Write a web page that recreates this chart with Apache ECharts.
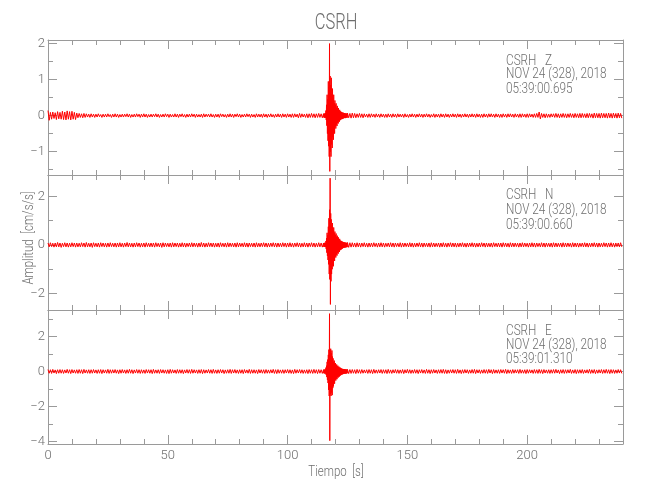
<!DOCTYPE html>
<html>
<head>
<meta charset="utf-8">
<script src="https://cdn.jsdelivr.net/npm/echarts@6/dist/echarts.min.js"></script>
<style>html,body{margin:0;padding:0;background:#fff;}#c{width:650px;height:500px;}</style>
</head>
<body>
<div id="c"></div>
<script>
// ---- sampling grid (seconds) ----
const quietStepA = 1, quietStartA = 0;     // 0..114
const eventStep = 0.25, eventStart = 115;  // 115..124.75
const quietStepB = 1, quietStartB = 125;   // 125..239

// ---- Z component: per-bin max / min (cm/s/s) ----
const zMaxA = [.14,.09,.10,.08,.11,.09,.12,.10,.13,.11,.12,.09,.07,.06,.05,.06,.05,.04,.05,.04,.04,.05,.03,.04,.04,.05,.03,.04,.05,.04,.03,.04,.04,.05,.04,.03,.04,.05,.04,.04,.05,.04,.03,.04,.04,.05,.04,.03,.04,.05,.04,.04,.03,.05,.04,.04,.05,.03,.04,.04,.05,.04,.04,.03,.04,.05,.04,.04,.05,.03,.04,.04,.05,.04,.03,.04,.05,.04,.04,.05,.04,.03,.04,.05,.04,.04,.03,.05,.04,.04,.05,.04,.04,.05,.03,.04,.05,.04,.05,.04,.05,.04,.05,.05,.04,.06,.05,.04,.05,.05,.06,.05,.05,.06,.05];
const zMinA = [-.13,-.10,-.08,-.11,-.09,-.10,-.11,-.12,-.10,-.12,-.10,-.11,-.06,-.05,-.06,-.05,-.04,-.05,-.04,-.05,-.04,-.03,-.05,-.04,-.04,-.03,-.05,-.04,-.04,-.05,-.04,-.04,-.03,-.04,-.05,-.04,-.04,-.03,-.05,-.04,-.04,-.05,-.04,-.04,-.03,-.04,-.05,-.04,-.04,-.03,-.05,-.04,-.04,-.04,-.05,-.03,-.04,-.05,-.04,-.04,-.03,-.05,-.04,-.04,-.05,-.04,-.03,-.04,-.04,-.05,-.04,-.05,-.03,-.04,-.05,-.04,-.04,-.05,-.03,-.04,-.05,-.04,-.04,-.03,-.05,-.04,-.05,-.04,-.04,-.05,-.04,-.05,-.04,-.04,-.05,-.04,-.04,-.05,-.04,-.05,-.04,-.05,-.05,-.04,-.06,-.05,-.04,-.05,-.06,-.05,-.05,-.06,-.05,-.05,-.06];
const zMaxE = [.05,.06,.05,.07,.14,.30,.58,.45,.95,.80,2.00,1.10,.85,1.05,.60,.75,.50,.58,.35,.42,.30,.34,.22,.27,.18,.21,.14,.16,.12,.11,.10,.09,.08,.08,.07,.07,.06,.06,.06,.05];
const zMinE = [-.05,-.06,-.05,-.06,-.12,-.28,-.50,-.70,-.85,-1.14,-1.55,-1.00,-1.14,-.80,-.90,-.60,-.67,-.45,-.50,-.30,-.36,-.25,-.29,-.20,-.22,-.15,-.17,-.13,-.12,-.10,-.10,-.09,-.09,-.07,-.07,-.06,-.07,-.06,-.05,-.06];
const zMaxB = [.07,.06,.07,.06,.05,.06,.05,.05,.04,.05,.05,.04,.05,.04,.05,.04,.04,.05,.04,.05,.04,.05,.04,.04,.05,.03,.04,.05,.04,.04,.05,.04,.04,.05,.04,.03,.05,.04,.04,.05,.04,.05,.04,.04,.05,.04,.05,.04,.04,.05,.04,.04,.05,.04,.05,.04,.04,.05,.04,.05,.05,.04,.05,.04,.04,.05,.04,.05,.05,.04,.05,.04,.05,.05,.04,.05,.05,.04,.05,.06,.10,.06,.05,.05,.04,.05,.05,.06,.05,.05,.06,.05,.05,.06,.05,.06,.05,.06,.06,.05,.06,.06,.05,.07,.06,.06,.07,.06,.06,.07,.06,.07,.06,.07,.06];
const zMinB = [-.06,-.07,-.06,-.06,-.05,-.05,-.06,-.04,-.05,-.05,-.04,-.05,-.04,-.05,-.04,-.05,-.05,-.04,-.05,-.04,-.05,-.04,-.04,-.05,-.04,-.05,-.04,-.04,-.05,-.04,-.04,-.05,-.04,-.04,-.05,-.04,-.05,-.04,-.05,-.04,-.05,-.04,-.05,-.04,-.04,-.05,-.04,-.05,-.04,-.04,-.05,-.04,-.04,-.05,-.04,-.05,-.05,-.04,-.05,-.04,-.04,-.05,-.04,-.05,-.05,-.04,-.05,-.04,-.04,-.05,-.04,-.05,-.05,-.04,-.05,-.05,-.04,-.05,-.05,-.05,-.09,-.05,-.06,-.05,-.05,-.04,-.05,-.05,-.06,-.05,-.05,-.06,-.05,-.05,-.06,-.05,-.06,-.06,-.05,-.06,-.06,-.05,-.07,-.06,-.06,-.07,-.06,-.06,-.07,-.06,-.07,-.06,-.07,-.06,-.07];

// ---- N component ----
const nMaxA = [.08,.09,.07,.08,.10,.08,.07,.09,.08,.07,.09,.08,.08,.07,.09,.08,.10,.07,.08,.09,.07,.08,.09,.08,.07,.08,.09,.07,.08,.08,.09,.07,.08,.10,.08,.07,.08,.09,.08,.07,.08,.09,.07,.08,.08,.09,.07,.08,.09,.08,.07,.08,.09,.08,.08,.07,.09,.08,.07,.08,.09,.08,.07,.08,.10,.08,.07,.09,.08,.08,.07,.08,.09,.07,.08,.09,.08,.07,.08,.09,.08,.07,.09,.08,.08,.07,.08,.09,.07,.08,.09,.08,.07,.08,.09,.08,.08,.07,.09,.08,.08,.09,.07,.08,.09,.08,.07,.09,.08,.08,.09,.08,.07,.09,.08];
const nMinA = [-.08,-.07,-.09,-.08,-.08,-.10,-.07,-.08,-.09,-.08,-.07,-.09,-.08,-.08,-.07,-.09,-.08,-.08,-.10,-.07,-.08,-.09,-.07,-.08,-.09,-.08,-.07,-.08,-.09,-.08,-.08,-.09,-.07,-.08,-.08,-.09,-.08,-.07,-.09,-.08,-.09,-.07,-.08,-.08,-.09,-.07,-.08,-.10,-.08,-.07,-.08,-.09,-.08,-.07,-.09,-.08,-.08,-.09,-.07,-.08,-.08,-.07,-.09,-.08,-.08,-.09,-.08,-.07,-.08,-.09,-.08,-.09,-.07,-.08,-.09,-.08,-.07,-.08,-.09,-.08,-.07,-.08,-.08,-.09,-.07,-.08,-.09,-.08,-.08,-.07,-.08,-.09,-.08,-.07,-.08,-.09,-.08,-.08,-.07,-.09,-.08,-.08,-.09,-.07,-.08,-.09,-.08,-.08,-.09,-.07,-.08,-.09,-.08,-.08,-.09];
const nMaxE = [.08,.07,.09,.08,.16,.28,.50,.40,.75,1.10,1.45,2.75,1.30,1.05,.80,.90,.60,.72,.48,.55,.40,.47,.33,.38,.27,.31,.22,.25,.18,.17,.15,.14,.13,.12,.11,.10,.10,.09,.09,.08];
const nMinE = [-.08,-.08,-.07,-.09,-.17,-.32,-.45,-.62,-.80,-1.20,-1.42,-2.45,-1.50,-1.20,-1.00,-.85,-.88,-.60,-.66,-.48,-.52,-.40,-.44,-.32,-.36,-.26,-.29,-.22,-.20,-.19,-.16,-.15,-.13,-.12,-.11,-.11,-.10,-.10,-.09,-.09];
const nMaxB = [.10,.09,.09,.08,.09,.08,.08,.09,.07,.08,.08,.09,.07,.08,.09,.08,.07,.08,.09,.08,.08,.07,.09,.08,.08,.07,.09,.08,.07,.08,.09,.08,.08,.07,.08,.09,.08,.07,.08,.08,.09,.07,.08,.09,.08,.08,.07,.08,.09,.07,.08,.08,.09,.08,.07,.08,.09,.08,.08,.07,.08,.09,.07,.08,.08,.09,.08,.07,.09,.08,.08,.07,.08,.09,.08,.07,.08,.09,.08,.08,.07,.09,.08,.08,.07,.08,.09,.08,.07,.08,.09,.08,.08,.07,.09,.08,.08,.07,.08,.09,.08,.07,.08,.09,.08,.08,.07,.09,.08,.08,.09,.07,.08,.08,.09];
const nMinB = [-.10,-.09,-.08,-.09,-.08,-.09,-.07,-.08,-.09,-.08,-.08,-.07,-.09,-.08,-.08,-.09,-.07,-.08,-.08,-.09,-.07,-.08,-.09,-.08,-.07,-.08,-.08,-.09,-.08,-.07,-.08,-.09,-.07,-.08,-.09,-.08,-.08,-.07,-.09,-.08,-.08,-.09,-.07,-.08,-.08,-.09,-.08,-.07,-.08,-.09,-.08,-.07,-.08,-.09,-.08,-.08,-.07,-.09,-.08,-.08,-.09,-.07,-.08,-.08,-.09,-.07,-.08,-.09,-.08,-.08,-.07,-.09,-.08,-.08,-.07,-.09,-.08,-.08,-.09,-.07,-.08,-.08,-.09,-.07,-.08,-.09,-.08,-.08,-.07,-.09,-.08,-.08,-.07,-.09,-.08,-.08,-.09,-.07,-.08,-.08,-.09,-.08,-.07,-.08,-.09,-.08,-.08,-.07,-.09,-.08,-.08,-.09,-.07,-.08,-.08];

// ---- E component ----
const eMaxA = [.11,.10,.12,.09,.10,.11,.10,.09,.12,.10,.11,.09,.10,.11,.10,.12,.09,.10,.10,.11,.09,.10,.11,.10,.09,.12,.10,.10,.11,.09,.10,.11,.09,.10,.12,.10,.09,.11,.10,.10,.09,.11,.10,.10,.12,.09,.10,.11,.10,.09,.10,.12,.10,.09,.11,.10,.10,.09,.11,.10,.12,.10,.09,.10,.11,.10,.09,.11,.10,.12,.09,.10,.11,.10,.09,.10,.12,.10,.11,.09,.10,.10,.11,.09,.12,.10,.10,.09,.11,.10,.10,.11,.09,.10,.12,.10,.11,.09,.10,.10,.11,.10,.09,.12,.10,.11,.10,.09,.10,.11,.10,.12,.10,.11,.10];
const eMinA = [-.10,-.11,-.09,-.12,-.10,-.10,-.11,-.09,-.10,-.12,-.09,-.10,-.11,-.10,-.12,-.09,-.10,-.11,-.10,-.09,-.11,-.10,-.12,-.09,-.10,-.11,-.10,-.09,-.10,-.12,-.10,-.09,-.11,-.10,-.10,-.12,-.09,-.10,-.11,-.10,-.11,-.09,-.10,-.12,-.10,-.10,-.11,-.09,-.10,-.11,-.12,-.10,-.09,-.11,-.10,-.10,-.12,-.09,-.10,-.11,-.10,-.09,-.11,-.10,-.12,-.10,-.09,-.10,-.11,-.10,-.11,-.10,-.09,-.12,-.10,-.10,-.11,-.09,-.10,-.11,-.10,-.12,-.09,-.10,-.11,-.10,-.10,-.12,-.09,-.10,-.11,-.10,-.10,-.09,-.11,-.12,-.10,-.10,-.11,-.09,-.10,-.11,-.12,-.10,-.09,-.10,-.11,-.10,-.12,-.10,-.11,-.10,-.12,-.10,-.11];
const eMaxE = [.10,.11,.10,.12,.22,.33,.55,.68,.95,1.25,3.30,1.20,1.30,1.05,1.20,.85,.75,.55,.62,.42,.48,.35,.40,.30,.33,.25,.27,.20,.22,.17,.17,.15,.15,.14,.13,.13,.12,.12,.11,.11];
const eMinE = [-.10,-.11,-.11,-.12,-.20,-.32,-.48,-.66,-1.05,-1.40,-3.95,-1.30,-1.40,-1.20,-1.35,-.95,-.85,-.62,-.70,-.48,-.52,-.40,-.44,-.32,-.35,-.27,-.29,-.22,-.23,-.19,-.18,-.16,-.15,-.14,-.13,-.12,-.12,-.11,-.11,-.10];
const eMaxB = [.12,.11,.11,.10,.12,.10,.11,.09,.10,.11,.10,.12,.09,.10,.11,.10,.10,.12,.09,.10,.11,.10,.09,.11,.10,.12,.10,.09,.11,.10,.10,.11,.09,.12,.10,.10,.11,.09,.10,.11,.12,.10,.09,.10,.11,.10,.12,.09,.10,.11,.10,.09,.11,.12,.10,.10,.09,.11,.10,.12,.10,.11,.09,.10,.11,.10,.12,.10,.09,.11,.10,.10,.12,.09,.10,.11,.10,.09,.11,.10,.12,.10,.11,.09,.10,.10,.11,.12,.09,.10,.11,.10,.10,.12,.09,.11,.10,.10,.11,.09,.10,.12,.10,.11,.09,.10,.11,.10,.12,.10,.11,.10,.09,.11,.10];
const eMinB = [-.12,-.11,-.10,-.12,-.10,-.11,-.10,-.09,-.11,-.10,-.12,-.10,-.10,-.09,-.11,-.10,-.12,-.10,-.11,-.09,-.10,-.11,-.10,-.12,-.09,-.10,-.11,-.10,-.10,-.12,-.09,-.10,-.11,-.10,-.12,-.10,-.09,-.11,-.10,-.10,-.11,-.12,-.10,-.09,-.10,-.11,-.10,-.12,-.10,-.09,-.11,-.10,-.10,-.12,-.09,-.11,-.10,-.10,-.11,-.09,-.12,-.10,-.10,-.11,-.09,-.10,-.12,-.10,-.11,-.10,-.09,-.11,-.10,-.10,-.12,-.10,-.09,-.11,-.10,-.11,-.10,-.12,-.09,-.10,-.11,-.10,-.10,-.09,-.12,-.10,-.11,-.10,-.09,-.11,-.10,-.12,-.10,-.10,-.11,-.09,-.10,-.11,-.10,-.12,-.10,-.09,-.11,-.10,-.10,-.12,-.10,-.11,-.10,-.09,-.11];

// ---- axis tick labels ----
const xTickLabels = [0, 50, 100, 150, 200];
const zLabels = [2, 1, 0, -1], zMinor = [1.5, 0.5, -0.5, -1.5];
const nLabels = [2, 0, -2], nMinor = [1, -1];
const eLabels = [2, 0, -2, -4], eMinor = [3, 1, -1, -3];
const yRanges = [[-1.65, 2.1], [-2.68, 2.88], [-4.14, 3.51]];

const stationInfo = [
  ['CSRH   Z', 'NOV 24 (328), 2018', '05:39:00.695'],
  ['CSRH   N', 'NOV 24 (328), 2018', '05:39:00.660'],
  ['CSRH   E', 'NOV 24 (328), 2018', '05:39:01.310']
];

function buildTrace(maxA, minA, maxE, minE, maxB, minB) {
  const pts = [];
  const seg = (start, step, mx, mn) => {
    for (let i = 0; i < mx.length; i++) {
      const t = start + i * step;
      pts.push([t, mx[i]]);
      pts.push([t + step / 2, mn[i]]);
    }
  };
  seg(quietStartA, quietStepA, maxA, minA);
  seg(eventStart, eventStep, maxE, minE);
  seg(quietStartB, quietStepB, maxB, minB);
  return pts;
}

const traces = [
  buildTrace(zMaxA, zMinA, zMaxE, zMinE, zMaxB, zMinB),
  buildTrace(nMaxA, nMinA, nMaxE, nMinE, nMaxB, nMinB),
  buildTrace(eMaxA, eMinA, eMaxE, eMinE, eMaxB, eMinB)
];
const majorSets = [zLabels, nLabels, eLabels];
const minorSets = [zMinor, nMinor, eMinor];

const FONT = "Roboto, 'Liberation Sans', sans-serif";
const TXT = '#6e6e6e', AX = '#9a9a9a';
const fmt = v => String(v).replace('-', '\u2212');

const gridTops = [40, 175, 310], gridH = [135, 135, 134];
const grids = gridTops.map((t, i) => ({ left: 48, right: 27, top: t, height: gridH[i], show: false }));

const xAxes = [], yAxes = [], series = [];
for (let g = 0; g < 3; g++) {
  ['bottom', 'top'].forEach(pos => {
    xAxes.push({
      type: 'value', gridIndex: g, position: pos, min: 0, max: 240, interval: 50,
      axisLine: { show: true, onZero: false, lineStyle: { color: AX, width: 1 } },
      axisTick: { show: true, inside: true, length: 9, lineStyle: { color: AX } },
      minorTick: { show: true, splitNumber: 5, length: 5, lineStyle: { color: AX } },
      splitLine: { show: false }, minorSplitLine: { show: false },
      axisLabel: {
        show: g === 2 && pos === 'bottom', color: TXT, fontFamily: FONT, fontWeight: 300, fontSize: 13, margin: 5,
        customValues: xTickLabels
      }
    });
  });
  const [mn, mx] = yRanges[g];
  ['left', 'right'].forEach(pos => {
    yAxes.push({
      type: 'value', gridIndex: g, position: pos, min: mn, max: mx,
      axisLine: { show: true, onZero: false, lineStyle: { color: AX, width: 1 } },
      axisTick: { show: true, inside: true, length: 9, customValues: majorSets[g], lineStyle: { color: AX } },
      axisLabel: {
        show: pos === 'left', color: TXT, fontFamily: FONT, fontWeight: 300, fontSize: 13, margin: 3,
        customValues: majorSets[g], formatter: fmt
      },
      splitLine: { show: false }
    });
    yAxes.push({
      type: 'value', gridIndex: g, position: pos, min: mn, max: mx,
      axisLine: { show: false, onZero: false },
      axisTick: { show: true, inside: true, length: 5, customValues: minorSets[g], lineStyle: { color: AX } },
      axisLabel: { show: false, customValues: minorSets[g] },
      splitLine: { show: false }
    });
  });
  series.push({
    type: 'line', xAxisIndex: g * 2, yAxisIndex: g * 4, data: traces[g],
    showSymbol: false, symbol: 'none', sampling: false, animation: false, silent: true,
    lineStyle: { color: '#ff0000', width: 1 }, z: 1
  });
}

const txtStyle = (text, size, align) => ({ text: text, fill: TXT, font: '300 ' + size + 'px ' + FONT, textAlign: align, textVerticalAlign: 'middle' });
const graphics = [
  { type: 'text', x: 336, y: 23, scaleX: 0.75, style: txtStyle('CSRH', 22, 'center') },
  { type: 'text', x: 29, y: 238, rotation: Math.PI / 2, scaleX: 0.82, style: txtStyle('Amplitud  [cm/s/s]', 14, 'center') },
  { type: 'text', x: 336, y: 472, scaleX: 0.82, style: txtStyle('Tiempo  [s]', 14, 'center') }
];
const infoY = [[61, 74.5, 89], [195, 210, 225], [331, 345, 359]];
stationInfo.forEach((lines, g) => {
  lines.forEach((txt, k) => {
    graphics.push({ type: 'text', x: 506, y: infoY[g][k], scaleX: 0.84, style: txtStyle(txt, 14, 'left') });
  });
});

const chart = echarts.init(document.getElementById('c'), null, { renderer: 'canvas' });
chart.setOption({
  animation: false,
  backgroundColor: '#fff',
  grid: grids,
  xAxis: xAxes,
  yAxis: yAxes,
  series: series,
  graphic: graphics
});
</script>
</body>
</html>
